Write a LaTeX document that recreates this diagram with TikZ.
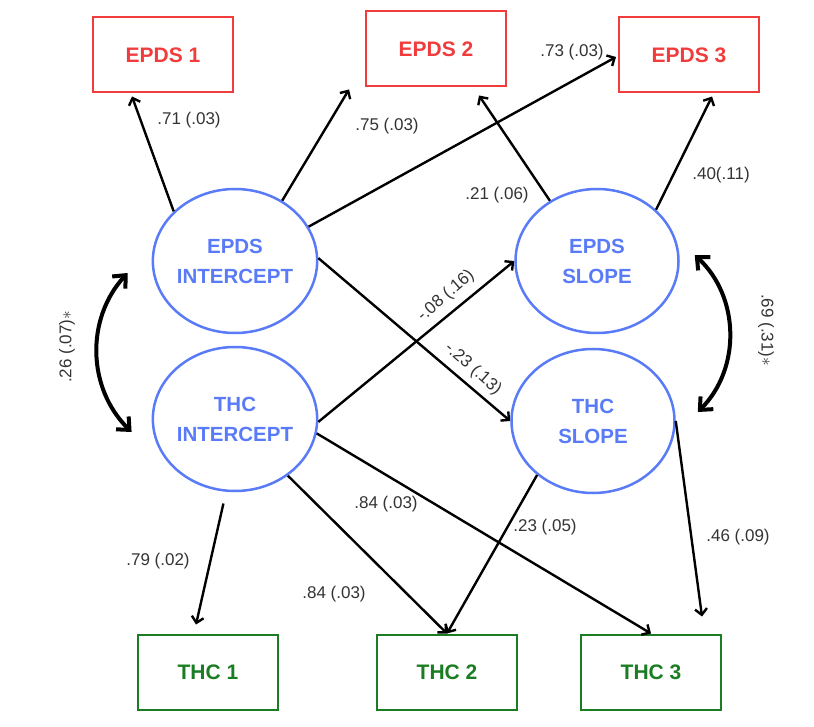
\documentclass[tikz,border=0pt]{standalone}
\usepackage{fontspec}
\setmainfont{Liberation Sans}
\usetikzlibrary{shapes.geometric,arrows.meta}
\definecolor{epdsred}{HTML}{F03C3C}
\definecolor{latblue}{HTML}{5A7BF7}
\definecolor{thcgreen}{HTML}{1B7D22}
\tikzset{
	obsbox/.style={draw, rectangle, line width=2pt, minimum width=140pt, minimum height=75pt, font=\fontsize{21}{24}\selectfont\bfseries},
	latent/.style={ellipse, draw=latblue, text=latblue, line width=2.5pt, inner sep=0pt, minimum width=163pt, minimum height=144pt, align=center, font=\fontsize{20.5}{30}\selectfont\bfseries},
	regr/.style={-{Straight Barb[length=6pt,width=12pt]}, line width=2.4pt},
	covar/.style={{Straight Barb[length=10pt,width=18pt]}-{Straight Barb[length=10pt,width=18pt]}, line width=4pt},
	coef/.style={text=black!80, font=\fontsize{17}{20}\selectfont, inner sep=1pt}
}
\begin{document}
\begin{tikzpicture}[x=1pt, y=1pt]
	\useasboundingbox (0,0) rectangle (814,-727);
	
	% Observed EPDS and THC scores
	\foreach \n/\x/\y/\t in {e1/163/55/EPDS 1, e2/436/49/EPDS 2, e3/689/55/EPDS 3} {
		\node[obsbox, draw=epdsred, text=epdsred] (\n) at (\x,-\y) {\t};
	}
	\foreach \n/\x/\t in {t1/208/THC 1, t2/447/THC 2, t3/651/THC 3} {
		\node[obsbox, draw=thcgreen, text=thcgreen] (\n) at (\x,-672) {\t};
	}
	
	% Growth factors
	\node[latent] (ei) at (235,-261) {EPDS\\INTERCEPT};
	\node[latent] (ti) at (235,-419) {THC\\INTERCEPT};
	\node[latent] (es) at (597,-261) {EPDS\\SLOPE};
	\node[latent] (ts) at (593,-421) {THC\\SLOPE};
	
	% Loadings
	\draw[regr] (ei.141.7) -- ([shift={(-31,-3)}]e1.south);
	\draw[regr] (ei.52) -- ([shift={(-16,-2)}]e2.south west);
	\draw[regr] (ei.25) -- ([shift={(-2,-2)}]e3.west);
	\draw[regr] (es.128) -- ([shift={(-28,-8)}]e2.south east);
	\draw[regr] (es.41) -- ([shift={(23,-3)}]e3.south);
	\draw[regr, shorten <=12pt] (ti.-97) -- ([shift={(-12,9)}]t1.north);
	\draw[regr] (ti.-47) -- (t2.north);
	\draw[regr] (ti.-10) -- (t3.north);
	\draw[regr] (ts.224) -- (t2.north);
	\draw[regr] (ts.0) -- ([shift={(51,17)}]t3.north);
	
	% Cross-lagged paths
	\draw[regr] (ei.2) -- (ts.west);
	\draw[regr] (ti.358) -- (es.west);
	
	% Covariances
	\draw[covar] ([shift={(-24,-12)}]ei.west) to[bend right=44] ([shift={(-20,-13)}]ti.west);
	\draw[covar] ([shift={(15,6)}]es.east) to[bend left=46] ([shift={(22,9)}]ts.east);
	
	% Estimates
	\node[coef] (c1) at (189,-120) {.71 (.03)};
	\node[coef] (c2) at (387,-126) {.75 (.03)};
	\node[coef] (c3) at (572,-52) {.73 (.03)};
	\node[coef] (c4) at (497,-195) {.21 (.06)};
	\node[coef] (c5) at (721,-175) {.40(.11)};
	\node[coef, rotate=41] (c6) at (446,-296) {-.08 (.16)};
	\node[coef, rotate=-41] (c7) at (473,-369) {-.23 (.13)};
	\node[coef] (c8) at (158,-561) {.79 (.02)};
	\node[coef] (c9) at (386,-504) {.84 (.03)};
	\node[coef] (c10) at (545,-527) {.23 (.05)};
	\node[coef] (c11) at (334,-594) {.84 (.03)};
	\node[coef] (c12) at (738,-537) {.46 (.09)};
	\node[coef, rotate=90] (c13) at (67,-347) {.26 (.07)$*$};
	\node[coef, rotate=-90] (c14) at (766,-330) {.69 (.31)$*$};
\end{tikzpicture}
\end{document}
